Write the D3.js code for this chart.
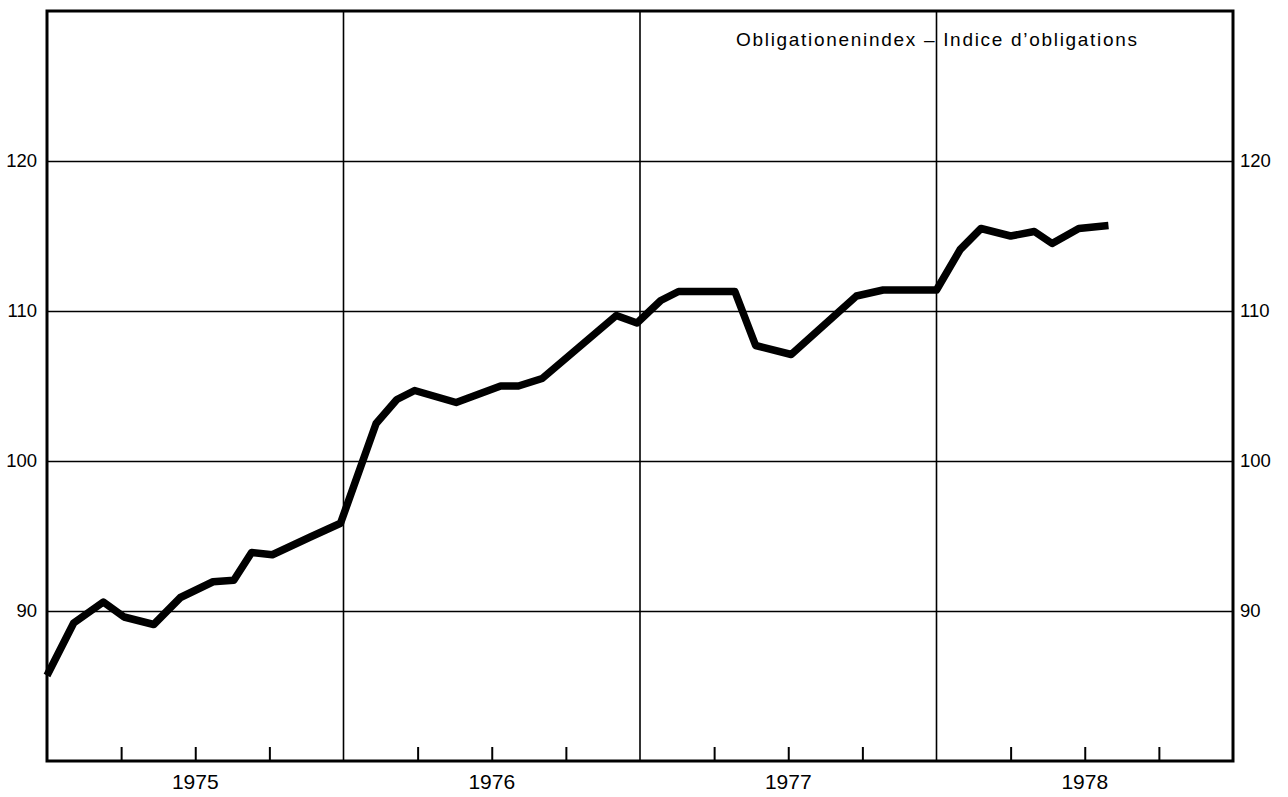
<!DOCTYPE html>
<html>
<head>
<meta charset="utf-8">
<script src="https://cdn.jsdelivr.net/npm/d3@7"></script>
<style>
  body { margin: 0; background: #fff; }
  text { font-family: "Liberation Sans", Arial, Helvetica, sans-serif; fill: #000; }
</style>
</head>
<body>
<div id="chart"></div>
<script>
// data: decimal year of each vertex, and index value
const dates = [
  1975.00, 1975.09, 1975.19, 1975.26, 1975.36, 1975.45, 1975.56, 1975.63,
  1975.69, 1975.76, 1975.89, 1975.99,
  1976.11, 1976.18, 1976.24, 1976.38, 1976.53, 1976.59, 1976.67, 1976.92,
  1976.99, 1977.07, 1977.13, 1977.32, 1977.39, 1977.51, 1977.73, 1977.82,
  1978.00, 1978.08, 1978.15, 1978.25, 1978.33, 1978.39, 1978.48, 1978.58
]
const values = [
  85.7, 89.2, 90.6, 89.6, 89.1, 90.9, 91.95, 92.05,
  93.9, 93.75, 94.95, 95.85,
  102.5, 104.1, 104.7, 103.9, 105.0, 105.0, 105.5, 109.7,
  109.2, 110.7, 111.3, 111.3, 107.7, 107.1, 111.0, 111.4,
  111.4, 114.1, 115.5, 115.0, 115.3, 114.5, 115.5, 115.7
]
const years = [1975, 1976, 1977, 1978]
const yTicks = [90, 100, 110, 120]
const title = "Obligationenindex – Indice d’obligations"

const W = 1288, H = 797
const mLeft = 47, mRight = 1233, mTop = 11, mBottom = 761

const x = d3.scaleLinear().domain([1975, 1979]).range([mLeft, mRight])
const y = d3.scaleLinear().domain([80, 130]).range([mBottom, mTop])

const svg = d3.select("#chart").append("svg")
  .attr("width", W).attr("height", H)

// horizontal gridlines + labels on both sides
const gl = svg.append("g").attr("transform", `translate(${mLeft},0)`)
  .call(d3.axisLeft(y).tickValues(yTicks).tickSize(-(mRight - mLeft)).tickPadding(10))
gl.select(".domain").remove()
gl.selectAll("line").attr("stroke", "#000").attr("stroke-width", 1.6)
gl.selectAll("text").style("font-size", "18.5px").attr("fill", "#000")

const gr = svg.append("g").attr("transform", `translate(${mRight},0)`)
  .call(d3.axisRight(y).tickValues(yTicks).tickSize(0).tickPadding(7))
gr.select(".domain").remove()
gr.selectAll("text").style("font-size", "18.5px").attr("fill", "#000")

// year separators
svg.append("g").selectAll("line")
  .data(years.slice(1))
  .join("line")
  .attr("x1", d => x(d)).attr("x2", d => x(d))
  .attr("y1", mTop).attr("y2", mBottom)
  .attr("stroke", "#000").attr("stroke-width", 1.6)

// quarter ticks
const quarters = []
years.forEach(yr => [0.25, 0.5, 0.75].forEach(q => quarters.push(yr + q)))
const gx = svg.append("g").attr("transform", `translate(0,${mBottom})`)
  .call(d3.axisBottom(x).tickValues(quarters).tickSize(-14).tickFormat(""))
gx.select(".domain").remove()
gx.selectAll("line").attr("stroke", "#000").attr("stroke-width", 2)

// year labels
svg.append("g").selectAll("text")
  .data(years)
  .join("text")
  .attr("x", d => x(d + 0.5))
  .attr("y", 789)
  .attr("text-anchor", "middle")
  .style("font-size", "21px")
  .text(d => d)

// frame
svg.append("rect")
  .attr("x", mLeft).attr("y", mTop)
  .attr("width", mRight - mLeft).attr("height", mBottom - mTop)
  .attr("fill", "none").attr("stroke", "#000").attr("stroke-width", 3)

// title
svg.append("text")
  .attr("x", 736).attr("y", 46)
  .attr("textLength", 401).attr("lengthAdjust", "spacing")
  .style("font-size", "19px")
  .text(title)

// index line
const line = d3.line()
  .x((d, i) => x(dates[i]))
  .y(d => y(d))

svg.append("path")
  .datum(values)
  .attr("d", line)
  .attr("fill", "none")
  .attr("stroke", "#000")
  .attr("stroke-width", 7.5)
  .attr("stroke-linejoin", "round")
</script>
</body>
</html>
